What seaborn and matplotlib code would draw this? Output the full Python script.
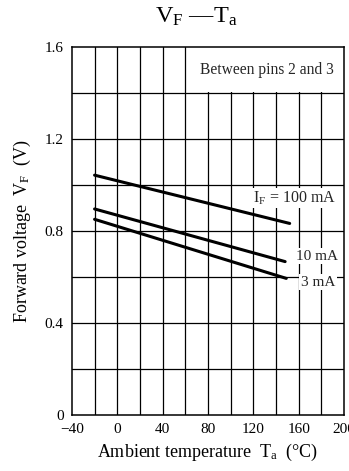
import matplotlib
matplotlib.use("Agg")
import matplotlib.pyplot as plt
import seaborn as sns
import pandas as pd
from matplotlib.patches import Rectangle

# ---- data ----
temp_100mA = [-20, 152]
vf_100mA = [1.043, 0.833]
temp_10mA = [-20, 148]
vf_10mA = [0.896, 0.667]
temp_3mA = [-20, 149]
vf_3mA = [0.851, 0.594]
series_names = ["100 mA", "10 mA", "3 mA"]

x_ticks = [-40, 0, 40, 80, 120, 160, 200]
x_tick_labels = ["\u221240", "0", "40", "80", "120", "160", "200"]
y_ticks = [0, 0.4, 0.8, 1.2, 1.6]
y_tick_labels = ["0", "0.4", "0.8", "1.2", "1.6"]

df = pd.concat([
    pd.DataFrame({"T": temp_100mA, "VF": vf_100mA, "IF": series_names[0]}),
    pd.DataFrame({"T": temp_10mA, "VF": vf_10mA, "IF": series_names[1]}),
    pd.DataFrame({"T": temp_3mA, "VF": vf_3mA, "IF": series_names[2]}),
])

sns.set_theme(style="white")
plt.rcParams["font.family"] = ["Liberation Serif", "DejaVu Serif"]
plt.rcParams["mathtext.fontset"] = "custom"
plt.rcParams["mathtext.rm"] = "Liberation Serif"
plt.rcParams["mathtext.it"] = "Liberation Serif:italic"

fig = plt.figure(figsize=(3.49, 4.71), dpi=100)
ax = fig.add_axes([0.206, 0.119, 0.780, 0.781])

# grid
for xv in range(-20, 200, 20):
    ax.axvline(xv, color="black", lw=0.9, zorder=1)
for yv in [0.2, 0.4, 0.6, 0.8, 1.0, 1.2, 1.4]:
    ax.axhline(yv, color="black", lw=0.9, zorder=1)

# white area for the note box
ax.add_patch(Rectangle((62, 1.405), 140, 0.2, facecolor="white", edgecolor="none", zorder=2))

sns.lineplot(data=df, x="T", y="VF", hue="IF", palette=["black"] * 3,
             linewidth=2.2, legend=False, ax=ax, zorder=3)

ax.set_xlim(-40, 200)
ax.set_ylim(0, 1.6)
ax.set_xticks(x_ticks)
ax.set_xticklabels(x_tick_labels)
ax.set_yticks(y_ticks)
ax.set_yticklabels(y_tick_labels)
ax.tick_params(axis="both", labelsize=11, length=0, colors="black")
ax.tick_params(axis="x", pad=6)
ax.tick_params(axis="y", pad=6)
for s in ax.spines.values():
    s.set_color("black")
    s.set_linewidth(1.1)

ax.set_xlabel(r"Ambient temperature  $\mathrm{T_a}$  (°C)", fontsize=13, color="black", labelpad=4)
ax.set_ylabel(r"Forward voltage  $\mathrm{V_F}$  (V)", fontsize=13, color="black", labelpad=8)
fig.text(0.562, 1 - 23 / 471, r"$\mathrm{V_F}$ —$\mathrm{T_a}$", fontsize=17.5,
         ha="center", va="baseline", color="black")

bb = dict(facecolor="white", edgecolor="none", pad=1.0)
ax.text(191, 1.5, "Between pins 2 and 3", fontsize=11.2, ha="right", va="center", zorder=4)
ax.text(156, 0.943, r"$\mathrm{I_F}$ = 100 mA", fontsize=11.5, ha="center", va="center", bbox=bb, zorder=4)
ax.text(176, 0.69, "10 mA", fontsize=11, ha="center", va="center", bbox=bb, zorder=4)
ax.text(177, 0.578, "3 mA", fontsize=11, ha="center", va="center", bbox=bb, zorder=4)

fig.savefig("out.png", dpi=100)
